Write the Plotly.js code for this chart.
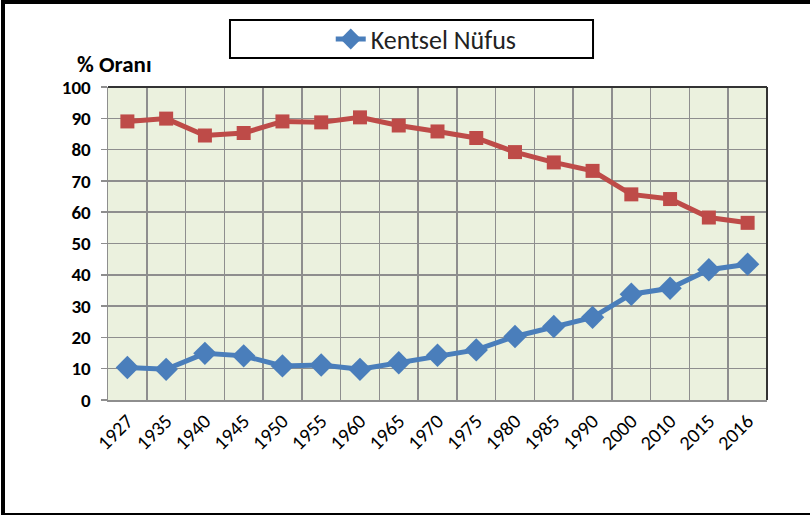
<!DOCTYPE html>
<html>
<head>
<meta charset="utf-8">
<script src="https://cdn.plot.ly/plotly-3.0.1.min.js"></script>
<style>
  html, body { margin: 0; padding: 0; background: #fff; }
  #wrap { position: relative; width: 810px; height: 515px; }
  #chart { width: 810px; height: 515px; }
  #frame { position: absolute; left: 1px; top: 0; width: 820px; height: 509px;
           border-left: 4px solid #000; border-top: 4px solid #000; border-bottom: 3px solid #000;
           pointer-events: none; box-sizing: content-box; }
</style>
</head>
<body>
<div id="wrap">
  <div id="chart"></div>
  <div id="frame"></div>
</div>
<script>
// Data
const years = ['1927','1935','1940','1945','1950','1955','1960','1965','1970','1975','1980','1985','1990','2000','2010','2015','2016'];
const kentsel = [10.4, 9.8, 14.9, 14.1, 10.9, 11.2, 9.8, 11.9, 14.3, 16.0, 20.3, 23.5, 26.4, 33.8, 35.7, 41.6, 43.4];
const kir = [89.0, 89.9, 84.5, 85.3, 89.0, 88.7, 90.3, 87.7, 85.8, 83.7, 79.2, 75.9, 73.2, 65.7, 64.2, 58.3, 56.6];
const seriesName = 'Kentsel Nüfus';
const yTitle = '% Oranı';

const FONT = "Carlito, 'Liberation Sans Narrow', 'DejaVu Sans Condensed', Arial, sans-serif";

const traces = [
  {
    x: years, y: kir, type: 'scatter', mode: 'lines+markers', name: 'Kırsal Nüfus',
    showlegend: false,
    line: { color: '#BE4B48', width: 5 },
    marker: { symbol: 'square', size: 14, color: '#BE4B48' }
  },
  {
    x: years, y: kentsel, type: 'scatter', mode: 'lines+markers', name: seriesName,
    line: { color: '#4A7EBB', width: 5 },
    marker: { symbol: 'diamond', size: 18, color: '#4A7EBB' }
  }
];

const layout = {
  width: 810, height: 515,
  margin: { l: 108, r: 43, t: 87, b: 115 },
  paper_bgcolor: '#ffffff',
  plot_bgcolor: '#EBF1DE',
  font: { family: FONT, color: '#000', size: 15 },
  showlegend: true,
  legend: {
    x: 0.338, y: 1.153, xanchor: 'left', yanchor: 'middle',
    bgcolor: 'rgba(0,0,0,0)', borderwidth: 0,
    font: { family: FONT, size: 26, color: '#222' }
  },
  xaxis: {
    type: 'category',
    range: [-0.5, years.length - 0.5],
    tickson: 'boundaries',
    showgrid: true, gridcolor: '#8E8E8E', gridwidth: 1.5,
    showline: true, linecolor: '#8E8E8E', linewidth: 1.5,
    ticks: '', tickangle: -45,
    tickfont: { family: FONT, size: 20, color: '#000' },
    fixedrange: true
  },
  yaxis: {
    range: [0, 100], dtick: 10, tick0: 0,
    showgrid: true, gridcolor: '#8E8E8E', gridwidth: 1.5,
    showline: true, linecolor: '#8E8E8E', linewidth: 1.5,
    zeroline: false,
    ticks: 'outside', ticklen: 6, tickcolor: '#8E8E8E', tickwidth: 1.5,
    ticklabelstandoff: 6,
    tickfont: { family: FONT, size: 19, color: '#000', weight: 'bold' },
    fixedrange: true
  },
  shapes: [
    { type: 'line', xref: 'paper', yref: 'paper', x0: 0, x1: 1, y0: 1, y1: 1,
      line: { color: '#333333', width: 2 } },
    { type: 'line', xref: 'paper', yref: 'paper', x0: 1, x1: 1, y0: 0, y1: 1,
      line: { color: '#333333', width: 2 } },
    { type: 'rect', xref: 'paper', yref: 'paper', x0: 0.1851, x1: 0.736, y0: 1.0927, y1: 1.214,
      line: { color: '#000', width: 2 }, fillcolor: 'rgba(255,255,255,0)', layer: 'below' }
  ],
  annotations: [
    { text: '<b>' + yTitle + '</b>', xref: 'paper', yref: 'paper', x: -0.05, y: 1.072,
      xanchor: 'left', yanchor: 'middle', showarrow: false,
      font: { family: FONT, size: 23, color: '#000' } }
  ]
};

Plotly.newPlot('chart', traces, layout, { displayModeBar: false, staticPlot: true });
</script>
</body>
</html>
